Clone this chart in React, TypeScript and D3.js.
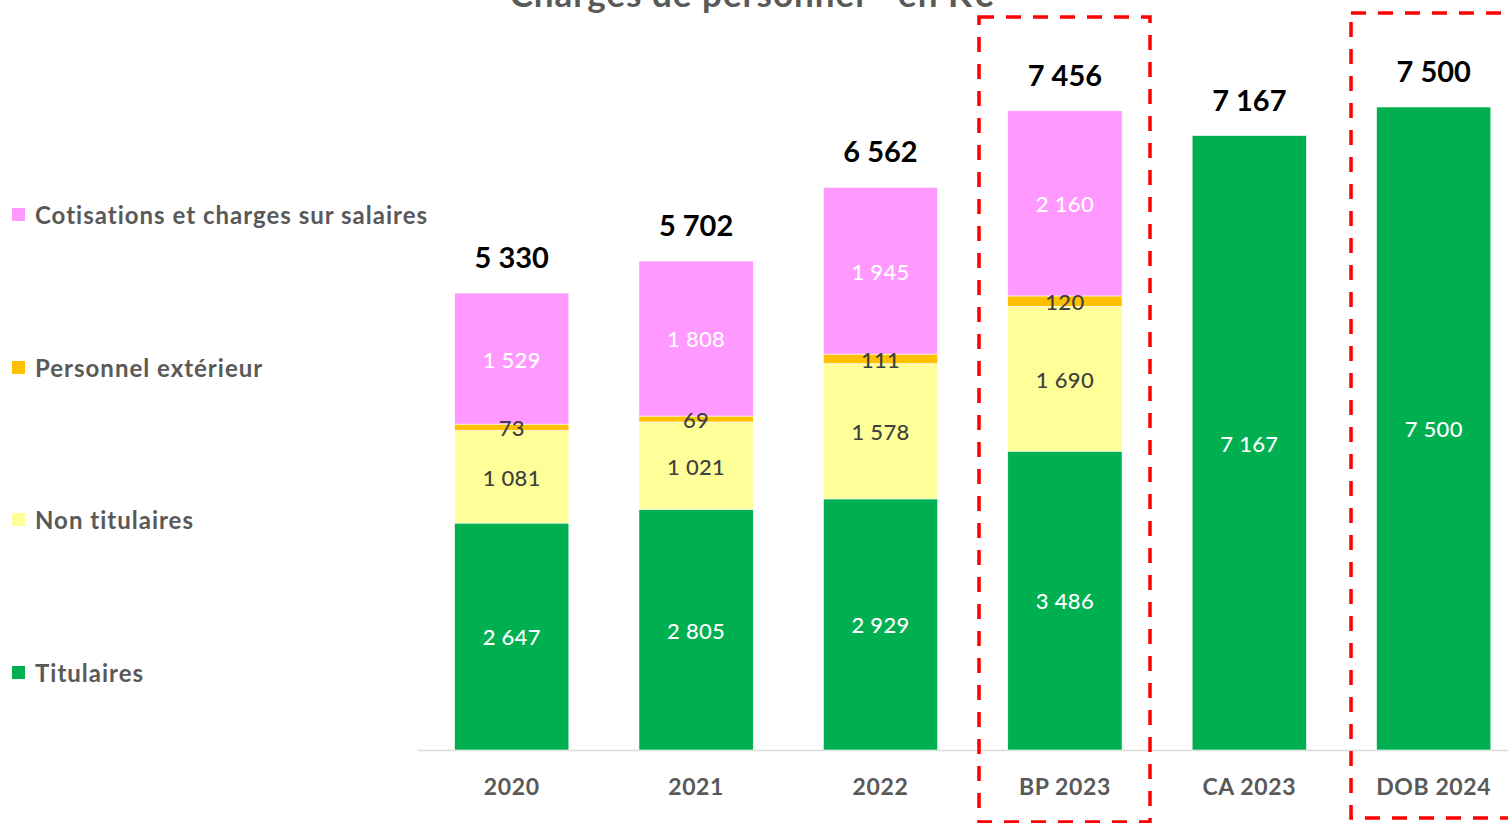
// React
import { useEffect, useRef } from 'react';

// Installed Packages
import * as d3 from 'd3';

// Data
const categories = ['2020', '2021', '2022', 'BP 2023', 'CA 2023', 'DOB 2024'];
const titulaires = [2647, 2805, 2929, 3486, 7167, 7500];
const nonTitulaires = [1081, 1021, 1578, 1690, 0, 0];
const personnelExterieur = [73, 69, 111, 120, 0, 0];
const cotisations = [1529, 1808, 1945, 2160, 0, 0];
const totals = [5330, 5702, 6562, 7456, 7167, 7500];
const highlighted = ['BP 2023', 'DOB 2024'];

type Series = { key: string, label: string, values: number[], color: string, textColor: string };

const series: Series[] = [
    { key: 'tit', label: 'Titulaires', values: titulaires, color: '#00b050', textColor: '#ffffff' },
    { key: 'non', label: 'Non titulaires', values: nonTitulaires, color: '#ffff99', textColor: '#404040' },
    { key: 'ext', label: 'Personnel extérieur', values: personnelExterieur, color: '#ffc000', textColor: '#404040' },
    { key: 'cot', label: 'Cotisations et charges sur salaires', values: cotisations, color: '#ff99ff', textColor: '#ffffff' },
];

const WIDTH = 1508;
const HEIGHT = 823;
const FONT = 'Lato, "Open Sans", sans-serif';

const fr = d3.formatLocale({ decimal: ',', thousands: '\u00a0', grouping: [3], currency: ['', ' €'] });
const fmt = fr.format(',.0f');

export default function App() {

    let ref = useRef<SVGSVGElement>(null);

    useEffect(() => {
        const svg = d3.select(ref.current);
        svg.selectAll('*').remove();

        const baseline = 750;

        const x = d3.scaleBand<string>()
            .domain(categories)
            .range([419.5, 419.5 + 6 * 184.4])
            .paddingInner(0.38)
            .paddingOuter(0.19);

        const y = d3.scaleLinear().domain([0, 7500]).range([baseline, 107]);

        // Title (cut at the top of the picture, as in the source)
        svg.append('text')
            .attr('x', 752)
            .attr('y', 7)
            .attr('text-anchor', 'middle')
            .attr('font-family', FONT)
            .attr('font-weight', 700)
            .attr('font-size', 35)
            .attr('letter-spacing', 1)
            .attr('fill', '#595959')
            .text('Charges de personnel - en K€');

        // Stacked data
        const rows = categories.map((c, i) => {
            const r: { [k: string]: number | string } = { cat: c };
            series.forEach(s => { r[s.key] = s.values[i]; });
            return r;
        });
        const stack = d3.stack<any>().keys(series.map(s => s.key));
        const stacked = stack(rows);

        // Axis line
        svg.append('line')
            .attr('x1', 418).attr('x2', WIDTH)
            .attr('y1', baseline + 0.5).attr('y2', baseline + 0.5)
            .attr('stroke', '#d9d9d9').attr('stroke-width', 1.5);

        // Bars
        stacked.forEach((layer, li) => {
            const s = series[li];
            svg.append('g')
                .selectAll('rect')
                .data(layer.filter(d => d[1] - d[0] > 0))
                .join('rect')
                .attr('x', d => x(d.data.cat as string)!)
                .attr('width', x.bandwidth())
                .attr('y', d => y(d[1]))
                .attr('height', d => y(d[0]) - y(d[1]))
                .attr('fill', s.color)
                .attr('stroke', '#ffffff')
                .attr('stroke-width', 0.6);
        });

        // Segment labels
        stacked.forEach((layer, li) => {
            const s = series[li];
            svg.append('g')
                .selectAll('text')
                .data(layer.filter(d => d[1] - d[0] > 0))
                .join('text')
                .attr('x', d => x(d.data.cat as string)! + x.bandwidth() / 2)
                .attr('y', d => (y(d[0]) + y(d[1])) / 2 + 1)
                .attr('dy', '0.36em')
                .attr('text-anchor', 'middle')
                .attr('font-family', FONT)
                .attr('font-size', 22)
                .attr('font-weight', 500)
                .attr('letter-spacing', 0.3)
                .attr('fill', s.textColor)
                .text(d => fmt(d[1] - d[0]));
        });

        // Totals
        svg.append('g')
            .selectAll('text')
            .data(categories)
            .join('text')
            .attr('x', c => x(c)! + x.bandwidth() / 2)
            .attr('y', (c, i) => y(totals[i]) - 25)
            .attr('text-anchor', 'middle')
            .attr('font-family', FONT)
            .attr('font-weight', 700)
            .attr('font-size', 29)
            .attr('fill', '#000000')
            .text((c, i) => fmt(totals[i]));

        // Category labels
        svg.append('g')
            .selectAll('text')
            .data(categories)
            .join('text')
            .attr('x', c => x(c)! + x.bandwidth() / 2)
            .attr('y', 787)
            .attr('dy', '0.36em')
            .attr('text-anchor', 'middle')
            .attr('font-family', FONT)
            .attr('font-weight', 700)
            .attr('font-size', 23)
            .attr('letter-spacing', 0.6)
            .attr('fill', '#595959')
            .text(c => c);

        // Highlight boxes
        const boxes = [
            { cat: highlighted[0], x0: 979, x1: 1150, y0: 17, y1: 822 },
            { cat: highlighted[1], x0: 1351, x1: 1530, y0: 13, y1: 818 },
        ];
        svg.append('g')
            .selectAll('rect')
            .data(boxes)
            .join('rect')
            .attr('x', d => d.x0)
            .attr('y', d => d.y0)
            .attr('width', d => d.x1 - d.x0)
            .attr('height', d => d.y1 - d.y0)
            .attr('fill', 'none')
            .attr('stroke', '#ff0000')
            .attr('stroke-width', 3.5)
            .attr('stroke-dasharray', '15 12');

        // Legend
        const legendY = [673, 520, 368, 215];
        const legend = svg.append('g')
            .selectAll('g')
            .data(series)
            .join('g')
            .attr('transform', (d, i) => `translate(12, ${legendY[i]})`);
        legend.append('rect')
            .attr('x', 0).attr('y', -7)
            .attr('width', 13).attr('height', 13)
            .attr('fill', d => d.color);
        legend.append('text')
            .attr('x', 23)
            .attr('y', 0)
            .attr('dy', '0.36em')
            .attr('font-family', FONT)
            .attr('font-weight', 700)
            .attr('font-size', 24)
            .attr('letter-spacing', 1)
            .attr('fill', '#595959')
            .text(d => d.label);

    }, [])

    return <svg ref={ref} width={WIDTH} height={HEIGHT}
        style={{ position: 'absolute', left: 0, top: 0, background: '#ffffff' }} />
}
